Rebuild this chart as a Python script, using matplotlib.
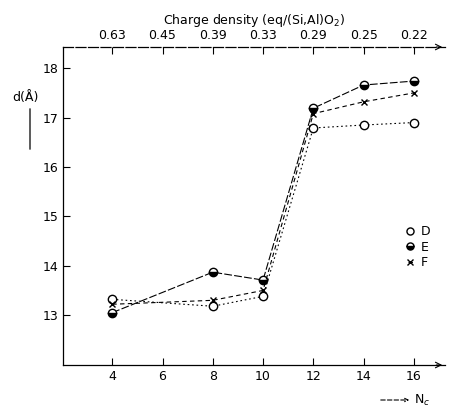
import matplotlib
matplotlib.use("Agg")
import matplotlib.pyplot as plt

nc = [4, 6, 8, 10, 12, 14, 16]
top_labels = ["0.63", "0.45", "0.39", "0.33", "0.29", "0.25", "0.22"]
y_ticks = [13, 14, 15, 16, 17, 18]

x_d = [4, 8, 10, 12, 14, 16]
d_D = [13.32, 13.18, 13.38, 16.79, 16.85, 16.90]
x_e = [4, 8, 10, 12, 14, 16]
d_E = [13.05, 13.87, 13.71, 17.19, 17.66, 17.74]
x_f = [4, 8, 10, 12, 14, 16]
d_F = [13.22, 13.30, 13.50, 17.08, 17.32, 17.50]

W, H = 458, 411
fig = plt.figure(figsize=(W / 100, H / 100), dpi=100)
ax = fig.add_axes([63 / W, 1 - 365 / H, (445 - 63) / W, (365 - 47) / H])
ax.set_xlim(2.04, 17.24)
ax.set_ylim(11.99, 18.43)

ax.plot(x_d, d_D, color="black", lw=0.8, ls=(0, (1.5, 2.5)), marker="o",
        mfc="white", mec="black", ms=6, label="D")
ax.plot(x_e, d_E, color="black", lw=0.8, ls=(0, (7, 2)), marker="o",
        fillstyle="bottom", mfc="black", mfcalt="white", mec="black", ms=6, label="E")
ax.plot(x_f, d_F, color="black", lw=0.8, ls=(0, (4, 3)), marker="x",
        mec="black", ms=5, label="F")

ax.set_xticks(nc)
ax.set_xticklabels([str(v) for v in nc])
ax.set_yticks(y_ticks)
ax.set_yticklabels([str(v) for v in y_ticks])
ax.tick_params(direction="in", length=5, labelsize=9, width=0.8)
for s in ["right", "top"]:
    ax.spines[s].set_visible(False)
ax.spines["left"].set_linewidth(0.9)
ax.spines["bottom"].set_linewidth(0.9)

ax2 = ax.twiny()
ax2.set_xlim(ax.get_xlim())
ax2.set_xticks(nc)
ax2.set_xticklabels(top_labels)
ax2.tick_params(direction="in", length=5, labelsize=9, width=0.8)
for s in ["right", "bottom", "left"]:
    ax2.spines[s].set_visible(False)
ax2.spines["top"].set_linewidth(0.9)
ax2.spines["top"].set_linestyle((0, (8, 2)))
ax2.set_xlabel("Charge density (eq/(Si,Al)O$_2$)", fontsize=9, labelpad=4)

# axis arrows
ax.annotate("", xy=(1.0, 0), xytext=(0.97, 0), xycoords="axes fraction",
            arrowprops=dict(arrowstyle="->", lw=0.8, color="black"))
ax.annotate("", xy=(1.0, 1), xytext=(0.97, 1), xycoords="axes fraction",
            arrowprops=dict(arrowstyle="->", lw=0.8, color="black"))

# y label with arrow
fig.text(25 / W, 1 - 98 / H, "d(Å)", fontsize=9, ha="center", va="center")
fig.add_artist(matplotlib.patches.FancyArrowPatch(
    (30 / W, 1 - 152 / H), (30 / W, 1 - 106 / H), transform=fig.transFigure,
    arrowstyle="-", lw=0.9, color="black"))

# N_c label with dashed arrow
fig.add_artist(matplotlib.patches.FancyArrowPatch(
    (378 / W, 1 - 400 / H), (412 / W, 1 - 400 / H), transform=fig.transFigure,
    arrowstyle="->", lw=0.8, ls=(0, (4, 2)), color="black", mutation_scale=6))
fig.text(414 / W, 1 - 400 / H, "N$_c$", fontsize=9, ha="left", va="center")

ax.legend(loc="center right", bbox_to_anchor=(0.99, 0.37), frameon=False,
          fontsize=9, handlelength=0.4, handletextpad=0.6, labelspacing=0.2,
          markerscale=0.85)

fig.savefig("out.png", dpi=100, facecolor="white")
